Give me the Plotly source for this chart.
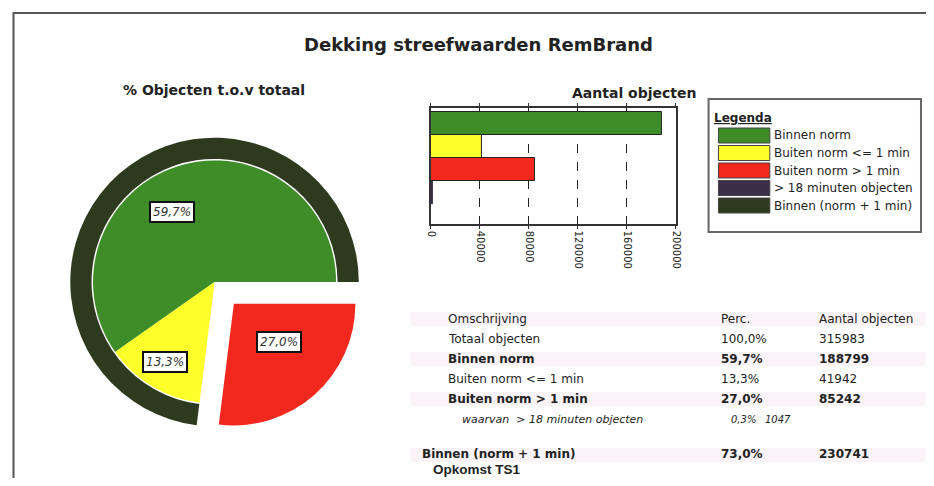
import plotly.graph_objects as go

# ---------------- data ----------------
categories = ["Binnen norm", "Buiten norm <= 1 min", "Buiten norm > 1 min", "> 18 minuten objecten"]
counts = [188799, 41942, 85242, 1047]
total_objects = 315983
binnen_plus_1 = 230741
legend_labels = ["Binnen norm", "Buiten norm <= 1 min", "Buiten norm > 1 min",
                 "> 18 minuten objecten", "Binnen (norm + 1 min)"]
x_ticks = [0, 40000, 80000, 120000, 160000, 200000]
table_rows = ["Totaal objecten", "Binnen norm", "Buiten norm <= 1 min", "Buiten norm > 1 min"]
table_counts = [315983, 188799, 41942, 85242]
sub_row = "waarvan  > 18 minuten objecten"
sub_count = 1047
bottom_row = "Binnen (norm + 1 min)"
bottom_count = 230741

# ---------------- style ----------------
OFF = 8                       # browser body margin
W, H = 934 - 2 * OFF, 486 - 2 * OFF
GREEN = "#3f8d28"
YELLOW = "#ffff2a"
RED = "#f2281e"
PURPLE = "#3b2d47"
DARK = "#2d3a1e"
TXT = "#222222"
FONT = "DejaVu Sans, Verdana, sans-serif"
FONT2 = "Arial, Liberation Sans, sans-serif"


def fx(x):
    return (x - OFF) / W


def fy(y):
    return 1 - (y - OFF) / H


def pct(v):
    return f"{v / total_objects * 100:.1f}".replace(".", ",") + "%"


def ccw_rotation(values):
    # plotly places the first slice clockwise from `rotation` when direction is ccw;
    # choose rotation so that the first slice starts at 3 o'clock going counterclockwise
    return 90 - 360 * values[0] / sum(values)


fig = go.Figure()

# ---- pie chart ----
cx, cy = 212, 282
R_ring = 146
R_pie = 123
pull_red = 0.24
R_dom = R_pie * (1 + pull_red)

ring_vals = [binnen_plus_1, counts[2]]
fig.add_trace(go.Pie(
    values=ring_vals,
    marker=dict(colors=[DARK, "rgba(0,0,0,0)"], line=dict(width=0)),
    hole=(R_pie + 1.5) / R_ring, sort=False, direction="counterclockwise",
    rotation=ccw_rotation(ring_vals),
    textinfo="none", hoverinfo="skip", showlegend=False,
    domain=dict(x=[fx(cx - R_ring), fx(cx + R_ring)], y=[fy(cy + R_ring), fy(cy - R_ring)]),
))
pie_vals = counts[:3]
fig.add_trace(go.Pie(
    values=pie_vals,
    marker=dict(colors=[GREEN, YELLOW, RED], line=dict(width=0)),
    pull=[0, 0, pull_red], sort=False, direction="counterclockwise",
    rotation=ccw_rotation(pie_vals),
    textinfo="none", hoverinfo="skip", showlegend=False,
    domain=dict(x=[fx(cx - R_dom), fx(cx + R_dom)], y=[fy(cy + R_dom), fy(cy - R_dom)]),
))

# ---- bar chart ----
fig.add_trace(go.Bar(
    y=categories, x=counts, orientation="h",
    marker=dict(color=[GREEN, YELLOW, RED, PURPLE],
                line=dict(color="#222", width=[1, 1, 1, 0])),
    width=0.97, showlegend=False, hoverinfo="skip",
))

fig.update_layout(
    width=W, height=H,
    margin=dict(l=0, r=0, t=0, b=0),
    paper_bgcolor="white", plot_bgcolor="white",
    font=dict(family=FONT, color=TXT),
    xaxis=dict(domain=[fx(431), fx(679)], range=[0, 200000], tickvals=x_ticks,
               ticktext=[str(t) for t in x_ticks], tickangle=90,
               tickfont=dict(size=10, color=TXT, family=FONT), showgrid=True,
               gridcolor="#222", griddash="dash", gridwidth=1, showline=True,
               linecolor="#333", linewidth=1.5, mirror="ticks", ticks="outside",
               ticklen=3, tickcolor="#333", zeroline=False, fixedrange=True),
    yaxis=dict(domain=[fy(224), fy(108)], categoryorder="array",
               categoryarray=categories, range=[4.37, -0.67], showticklabels=False,
               showgrid=False, showline=True, linecolor="#333", linewidth=1.5,
               mirror=True, ticks="", zeroline=False, fixedrange=True),
    bargap=0,
)

shapes = []
ann = []


def text(x, y, s, size=11, bold=False, italic=False, xanchor="left", color=TXT,
         family=FONT, **kw):
    t = s
    if bold:
        t = f"<b>{t}</b>"
    if italic:
        t = f"<i>{t}</i>"
    ann.append(dict(x=fx(x), y=fy(y), xref="paper", yref="paper", text=t, showarrow=False,
                    xanchor=xanchor, yanchor="middle",
                    font=dict(size=size, color=color, family=family), **kw))


def rect(x0, y0, x1, y1, **kw):
    shapes.append(dict(type="rect", xref="paper", yref="paper",
                       x0=fx(x0), x1=fx(x1), y0=fy(y1), y1=fy(y0), **kw))


# frame
rect(8.5, 13, 960, 520, line=dict(color="#555", width=2))

# titles
text(479, 44, "Dekking streefwaarden RemBrand", size=18, bold=True, xanchor="center")
text(211, 90, "% Objecten t.o.v totaal", size=14, bold=True, xanchor="center")
text(637, 93, "Aantal objecten", size=14, bold=True, xanchor="center")

# pie labels
pie_label_pos = [(169, 212), (162, 362), (277, 342)]
for (lx, ly), v in zip(pie_label_pos, pie_vals):
    text(lx, ly, pct(v), size=12, italic=True, xanchor="center", color="#333",
         bgcolor="white", bordercolor="#111", borderwidth=2, borderpad=2)

# legend box
rect(712, 99, 927, 232, line=dict(color="#666", width=2), fillcolor="white")
text(715, 118, "<u>Legenda</u>", size=12, bold=True)
legend_colors = [GREEN, YELLOW, RED, PURPLE, DARK]
for i, (lab, col) in enumerate(zip(legend_labels, legend_colors)):
    top = 128 + i * 17.5
    rect(722, top, 774, top + 15, line=dict(color="#444", width=1), fillcolor=col)
    text(776, top + 7.5, lab, size=12)

# table background stripes (faint)
for yy in [319, 359, 399, 455]:
    rect(410, yy - 7, 934, yy + 7, line=dict(width=0),
         fillcolor="rgba(225,190,215,0.18)", layer="below")

# table
col_desc, col_perc, col_cnt = 446, 723, 822
text(col_desc, 319, "Omschrijving", size=12)
text(col_perc, 319, "Perc.", size=12)
text(col_cnt, 319, "Aantal objecten", size=12)
bold_rows = {"Binnen norm", "Buiten norm > 1 min"}
for i, (lab, c) in enumerate(zip(table_rows, table_counts)):
    y = 339 + i * 20
    b = lab in bold_rows
    text(col_desc, y, lab, size=12, bold=b)
    text(col_perc, y, pct(c), size=12, bold=b)
    text(col_cnt, y, str(c), size=12, bold=b)
text(460, 419, sub_row, size=11, italic=True)
text(733, 419, pct(sub_count), size=10, italic=True)
text(767, 419, str(sub_count), size=10, italic=True)
text(420, 454, bottom_row, size=12, bold=True)
text(col_perc, 454, pct(bottom_count), size=12, bold=True)
text(col_cnt, 454, str(bottom_count), size=12, bold=True)
text(431, 469, "Opkomst TS1", size=13.5, bold=True, family=FONT2)

fig.update_layout(shapes=shapes, annotations=ann)
fig.write_html("out.html")
